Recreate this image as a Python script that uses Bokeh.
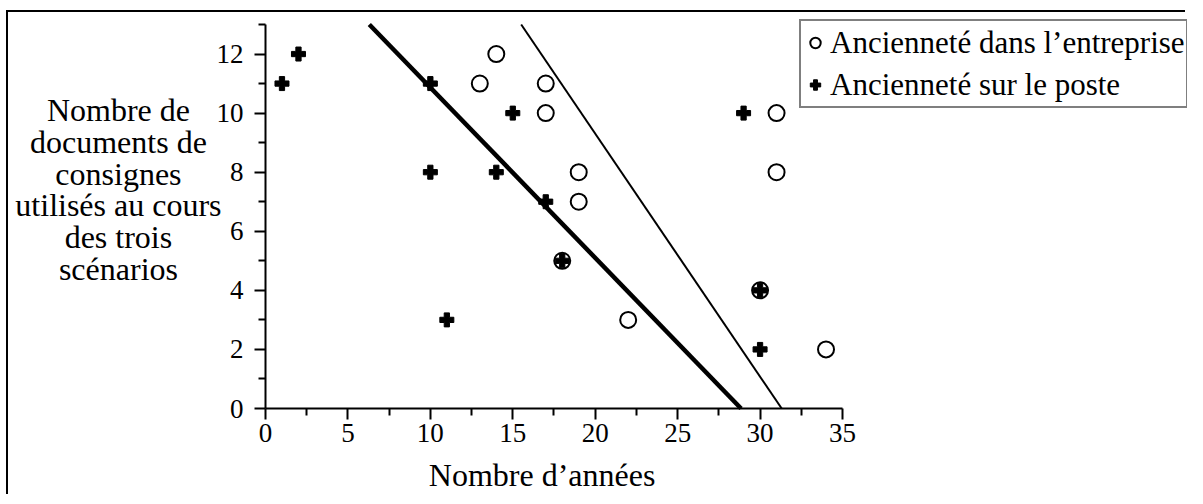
from bokeh.plotting import figure
from bokeh.models import FixedTicker, Label, Legend, LegendItem, Range1d
from bokeh.embed import file_html
from bokeh.resources import INLINE

# ---- data ----
entreprise_x = [14, 13, 17, 17, 19, 19, 18, 22, 30, 31, 31, 34]
entreprise_y = [12, 11, 11, 10, 8, 7, 5, 3, 4, 10, 8, 2]
poste_x = [1, 2, 10, 15, 10, 14, 17, 18, 11, 29, 30, 30]
poste_y = [11, 12, 11, 10, 8, 8, 7, 5, 3, 10, 4, 2]

# fitted lines (intercept, slope): thick then thin
trend_intercepts = [16.63, 25.76]
trend_slopes = [-0.5765, -0.8227]

x_ticks = [0, 5, 10, 15, 20, 25, 30, 35]
x_minor = [2.5, 7.5, 12.5, 17.5, 22.5, 27.5, 32.5]
y_ticks = [0, 2, 4, 6, 8, 10, 12]
y_minor = [1, 3, 5, 7, 9, 11, 13]

x_title = "Nombre d\u2019années"
y_title_lines = ["Nombre de", "documents de", "consignes",
                 "utilisés au cours", "des trois", "scénarios"]
legend_labels = ["Ancienneté dans l\u2019entreprise", "Ancienneté sur le poste"]

# axis extents (data)
X0, X1 = 0, 35
Y0, Y1 = 0, 13

FONT = "Liberation Serif"
W, H = 1179, 484

# the frame covers the whole canvas; axes are pinned at x=0 / y=0
p = figure(width=W, height=H,
           x_range=Range1d(-15.589, 55.927), y_range=Range1d(-2.979, 13.406),
           output_backend="svg", toolbar_location=None,
           min_border=0, min_border_left=0, min_border_right=0,
           min_border_top=0, min_border_bottom=0)
p.title.visible = False
p.styles = {"border-left": "2px solid black", "border-top": "2px solid black",
            "position": "relative", "left": "6px", "top": "10px"}
p.background_fill_color = "white"
p.border_fill_color = "white"
p.outline_line_color = None
p.xgrid.visible = False
p.ygrid.visible = False

p.xaxis.fixed_location = Y0
p.yaxis.fixed_location = X0
p.xaxis.bounds = (X0, X1)
p.yaxis.bounds = (Y0, Y1)
p.xaxis.ticker = FixedTicker(ticks=x_ticks, minor_ticks=x_minor)
p.yaxis.ticker = FixedTicker(ticks=y_ticks, minor_ticks=y_minor)
for ax in (p.xaxis, p.yaxis):
    ax.axis_line_width = 2
    ax.axis_line_color = "black"
    ax.major_tick_line_width = 2
    ax.minor_tick_line_width = 2
    ax.major_tick_line_color = "black"
    ax.minor_tick_line_color = "black"
    ax.major_tick_in = 0
    ax.minor_tick_in = 0
    ax.major_tick_out = 11
    ax.minor_tick_out = 7
    ax.major_label_text_font = FONT
    ax.major_label_text_font_size = "27px"
    ax.major_label_text_color = "black"
p.yaxis.major_label_standoff = 11
p.xaxis.major_label_standoff = 4

# trend lines, limited to the axis box
for b, m, w in zip(trend_intercepts, trend_slopes, [4.5, 2]):
    xa = max(X0, min(X1, (Y1 - b) / m))
    xb = max(X0, min(X1, (Y0 - b) / m))
    p.line([xa, xb], [b + m * xa, b + m * xb], line_color="black", line_width=w)

r1 = p.scatter(entreprise_x, entreprise_y, marker="circle", size=16,
               line_color="black", line_width=2, fill_color=None)
r2 = p.scatter(poste_x, poste_y, marker="plus", size=14,
               line_color="black", fill_color="black")

legend = Legend(items=[LegendItem(label=legend_labels[0], renderers=[r1]),
                       LegendItem(label=legend_labels[1], renderers=[r2])],
                location=(791, 388), margin=0, padding=1, spacing=1,
                glyph_width=26, glyph_height=41, label_height=41,
                label_standoff=2,
                label_text_font=FONT, label_text_font_size="31px",
                label_text_color="black",
                border_line_color="black", border_line_width=2,
                background_fill_color="white", background_fill_alpha=1.0)
p.add_layout(legend)

# axis titles
p.add_layout(Label(x=16.78, y=-2.26, text=x_title, text_align="center",
                   text_baseline="alphabetic", text_font=FONT,
                   text_font_size="32px", text_color="black"))
for i, line in enumerate(y_title_lines):
    p.add_layout(Label(x=-8.92, y=10.12 - 1.0825 * i, text=line,
                       text_align="center", text_baseline="alphabetic",
                       text_font=FONT, text_font_size="32px",
                       text_color="black"))

open("out.html", "w").write(file_html(p, INLINE))
